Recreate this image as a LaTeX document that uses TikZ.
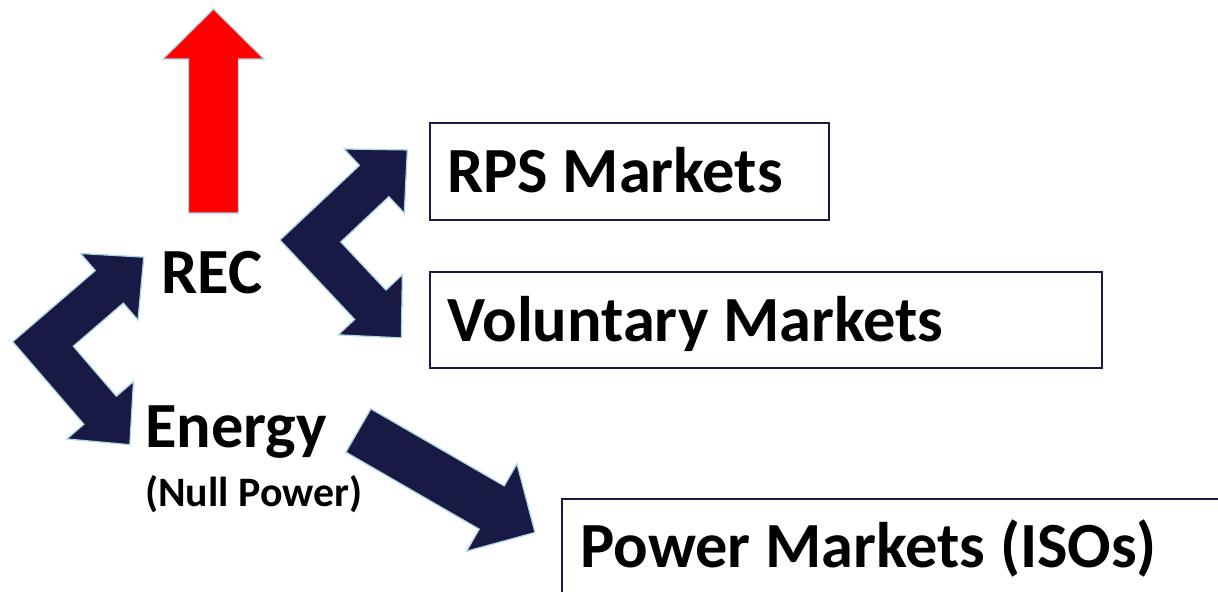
\documentclass[tikz,border=0pt]{standalone}
\usepackage{fontspec}
\setmainfont{Carlito}
\usepackage{tikz}
\definecolor{navy}{RGB}{25,25,70}
\definecolor{rim}{RGB}{175,215,225}

\begin{document}
\begin{tikzpicture}[x=0.025cm, y=-0.025cm,
  big/.style={font=\bfseries\fontsize{45.8}{55}\selectfont, inner sep=0pt, anchor=base west},
  small/.style={font=\bfseries\fontsize{29.8}{36}\selectfont, inner sep=0pt, anchor=base west},
  box/.style={draw=navy, line width=1pt},
  blk/.style={draw=rim, line width=0.9pt, line join=miter}]

  \clip (0,0) rectangle (1218,592);

  %bent double arrows
  \foreach \x/\y/\a in {12.7/341.7/40.75, 280/240/43.2}{
    \filldraw[blk, fill=navy, shift={(\x,\y)}, rotate=\a]
      (0,0) -- (109,0) -- (109,-22.5) -- (154.5,21.5) -- (109,65.5) -- (109,43)
      -- (43,43) -- (43,109) -- (65.5,109) -- (21.5,154.5) -- (-22.5,109) -- (0,109) -- cycle;
  }

  %straight arrows
  \foreach \x/\y/\a/\c in {213.5/213/90/red, 358.35/430.5/-30/navy}{
    \filldraw[blk, fill=\c, shift={(\x,\y)}, rotate=\a]
      (0,-25) -- (154,-25) -- (154,-50.5) -- (204,0) -- (154,50.5) -- (154,25) -- (0,25) -- cycle;
  }

  %market boxes
  \draw[box] (430,123) rectangle (829,220);
  \draw[box] (430,272) rectangle (1102,368);
  \draw[box] (562,499) rectangle (1240,620);

  %labels
  \node[big] (rps) at (447,192) {RPS Markets};
  \node[big] (vol) at (447,341) {Voluntary Markets};
  \node[big] (iso) at (580,567) {Power Markets (ISOs)};
  \node[big] (rec) at (161,293) {REC};
  \node[big] (energy) at (145,447) {Energy};
  \node[small] (null) at (145,506) {(Null Power)};

\end{tikzpicture}
\end{document}
